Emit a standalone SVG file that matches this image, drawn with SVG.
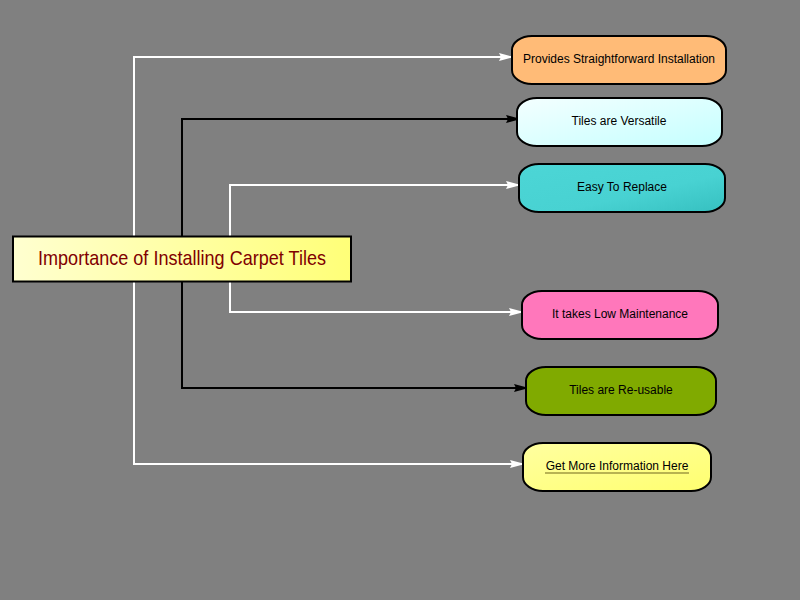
<svg xmlns="http://www.w3.org/2000/svg" width="800" height="600" viewBox="0 0 800 600">
<style>
.n{stroke:#000;stroke-width:2}
.t{font-family:"Liberation Sans",Arial,sans-serif;font-size:12px;fill:#000;text-anchor:middle}
.w{fill:none;stroke:#fff;stroke-width:2}
.b{fill:none;stroke:#000;stroke-width:2}
</style>
<defs>
<marker id="aw" viewBox="0 0 15 10" refX="14" refY="5" markerWidth="15" markerHeight="10" markerUnits="userSpaceOnUse" orient="auto"><path d="M0,1 L15,5 L0,9 L2,5 Z" fill="#fff"/></marker>
<marker id="ab" viewBox="0 0 15 10" refX="14" refY="5" markerWidth="15" markerHeight="10" markerUnits="userSpaceOnUse" orient="auto"><path d="M0,1 L15,5 L0,9 L2,5 Z" fill="#000"/></marker>
<linearGradient id="gm" x1="0" y1="0" x2="1" y2="0"><stop offset="0" stop-color="#ffffd0"/><stop offset="1" stop-color="#ffff78"/></linearGradient>
<linearGradient id="gv" x1="0" y1="0" x2="1" y2="1"><stop offset="0" stop-color="#f4ffff"/><stop offset="1" stop-color="#c4ffff"/></linearGradient>
<linearGradient id="ge" x1="0" y1="0" x2="1" y2="1"><stop offset="0" stop-color="#4cd6d6"/><stop offset="0.6" stop-color="#48d2d2"/><stop offset="1" stop-color="#36c0c0"/></linearGradient>
<linearGradient id="gy" x1="0" y1="0" x2="1" y2="1"><stop offset="0" stop-color="#ffffa0"/><stop offset="1" stop-color="#ffff70"/></linearGradient>
</defs>
<rect width="800" height="600" fill="#808080"/>
<g id="connectors">
<path class="w" d="M134,236 V57 H513" marker-end="url(#aw)"/>
<path class="b" d="M182,236 V119 H520" marker-end="url(#ab)"/>
<path class="w" d="M230,236 V185 H520" marker-end="url(#aw)"/>
<path class="w" d="M230,281 V312 H523" marker-end="url(#aw)"/>
<path class="b" d="M182,281 V388 H528" marker-end="url(#ab)"/>
<path class="w" d="M134,281 V464 H524" marker-end="url(#aw)"/>
</g>
<g id="main">
<rect class="n" x="13" y="236.5" width="338" height="45" fill="url(#gm)"/>
<text x="182" y="265" style="font-family:'Liberation Sans',Arial,sans-serif;font-size:21px;fill:#800000;text-anchor:middle" textLength="288" lengthAdjust="spacingAndGlyphs">Importance of Installing Carpet Tiles</text>
</g>
<g id="n1">
<rect class="n" x="512" y="36" width="214" height="48" rx="20" ry="14" fill="#ffbb77"/>
<text class="t" x="619" y="63">Provides Straightforward Installation</text>
</g>
<g id="n2">
<rect class="n" x="517" y="98" width="205" height="48" rx="20" ry="14" fill="url(#gv)"/>
<text class="t" x="619" y="125">Tiles are Versatile</text>
</g>
<g id="n3">
<rect class="n" x="519" y="164" width="206" height="48" rx="20" ry="14" fill="url(#ge)"/>
<text class="t" x="622" y="191">Easy To Replace</text>
</g>
<g id="n4">
<rect class="n" x="522" y="291" width="196" height="48" rx="20" ry="14" fill="#ff77bb"/>
<text class="t" x="620" y="318">It takes Low Maintenance</text>
</g>
<g id="n5">
<rect class="n" x="526" y="367" width="190" height="48" rx="20" ry="14" fill="#80aa00"/>
<text class="t" x="621" y="394">Tiles are Re-usable</text>
</g>
<g id="n6">
<rect class="n" x="523" y="443" width="188" height="48" rx="20" ry="14" fill="url(#gy)"/>
<text class="t" x="617" y="470">Get More Information Here</text>
<line x1="545" y1="473" x2="689" y2="473" stroke="#a09a40" stroke-width="1.5"/>
</g>
</svg>
